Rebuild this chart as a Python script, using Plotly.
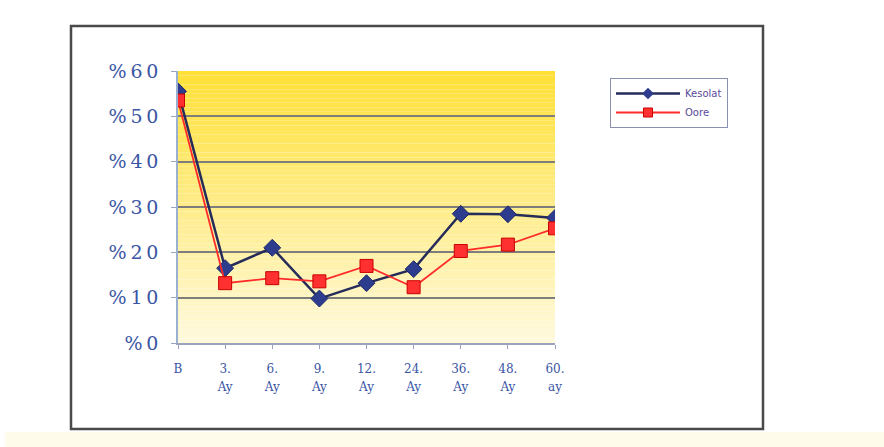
import plotly.graph_objects as go

# Follow-up periods (first line / second line of each tick label)
periods = ["B", "3.", "6.", "9.", "12.", "24.", "36.", "48.", "60."]
period_units = ["", "Ay", "Ay", "Ay", "Ay", "Ay", "Ay", "Ay", "ay"]

# Percentages for each series
kesolat = [55.5, 16.5, 21.0, 9.8, 13.2, 16.3, 28.5, 28.4, 27.6]
oore = [53.5, 13.2, 14.3, 13.6, 17.0, 12.3, 20.3, 21.7, 25.3]

y_ticks = [0, 10, 20, 30, 40, 50, 60]
# thin spaces widen the percent labels a little
y_ticktext = ["%\u2009" + "\u2009".join(str(v)) for v in y_ticks]

W, H = 884, 447
L, R, T, B = 178, 329, 71, 104
pw, ph = W - L - R, H - T - B

xs = list(range(len(periods)))
blue = "#3a55a4"

k_line = dict(color="#262c5a", width=2.5)
o_line = dict(color="#ff2a2a", width=1.8)

fig = go.Figure()
fig.add_trace(go.Scatter(
    x=xs, y=kesolat, name="Kesolat", mode="lines+markers",
    line=k_line, showlegend=False,
    marker=dict(symbol="diamond", size=13, color="#2d3c8c",
                line=dict(color="#1e2a6a", width=1)),
))
fig.add_trace(go.Scatter(
    x=xs, y=oore, name="Oore", mode="lines+markers",
    line=o_line, showlegend=False,
    marker=dict(symbol="square", size=13, color="#ff3030",
                line=dict(color="#c80000", width=1)),
))
# legend entries with smaller symbols
fig.add_trace(go.Scatter(
    x=[None], y=[None], name="Kesolat", mode="lines+markers", line=k_line,
    marker=dict(symbol="diamond", size=9, color="#2d3c8c"),
))
fig.add_trace(go.Scatter(
    x=[None], y=[None], name="Oore", mode="lines+markers", line=o_line,
    marker=dict(symbol="square", size=9, color="#ff3030",
                line=dict(color="#c80000", width=1)),
))
# carrier for the second row of x tick labels
fig.add_trace(go.Scatter(x=xs, y=[None] * len(xs), xaxis="x2",
                         showlegend=False, hoverinfo="skip"))


def px_x(p):
    return (p - L) / pw


def px_y(p):
    return (H - B - p) / ph


# vertical yellow gradient behind the plot area
shapes = []
n = 60
top_c = (255, 224, 56)
bot_c = (255, 249, 220)
for i in range(n):
    t = i / (n - 1)
    c = tuple(round(top_c[k] + (bot_c[k] - top_c[k]) * t) for k in range(3))
    shapes.append(dict(type="rect", xref="paper", yref="paper",
                       x0=0, x1=1, y0=1 - (i + 1) / n, y1=1 - i / n,
                       fillcolor="rgb(%d,%d,%d)" % c, line=dict(width=0),
                       layer="below"))

# faint strip along the bottom of the page
shapes.append(dict(type="rect", xref="paper", yref="paper",
                   x0=px_x(5), x1=px_x(884), y0=px_y(447), y1=px_y(432),
                   fillcolor="#fffbea", line=dict(width=0), layer="below"))

# outer chart frame
shapes.append(dict(type="rect", xref="paper", yref="paper",
                   x0=px_x(71), x1=px_x(763), y0=px_y(429), y1=px_y(26),
                   line=dict(color="#4a4a4a", width=2.5), layer="below"))

fig.update_layout(
    width=W, height=H,
    margin=dict(l=L, r=R, t=T, b=B),
    paper_bgcolor="white",
    plot_bgcolor="rgba(0,0,0,0)",
    shapes=shapes,
    showlegend=True,
    legend=dict(
        x=px_x(610), y=px_y(78), xanchor="left", yanchor="top",
        bgcolor="white", bordercolor="#8a90b0", borderwidth=1,
        font=dict(family="DejaVu Sans", size=10, color="#5a4a9a"),
        itemwidth=64, tracegroupgap=4,
    ),
    xaxis=dict(
        range=[0, 8], tickmode="array", tickvals=xs, ticktext=periods,
        showgrid=False, zeroline=False,
        showline=True, linecolor="#9aa4c0", linewidth=1.5,
        ticks="outside", ticklen=4, tickcolor="#9aa4c0",
        tickfont=dict(family="DejaVu Serif", size=12, color=blue),
        ticklabelstandoff=10,
    ),
    xaxis2=dict(
        range=[0, 8], overlaying="x", side="bottom", anchor="y",
        tickmode="array", tickvals=xs, ticktext=period_units,
        showgrid=False, zeroline=False, showline=False, ticks="",
        tickfont=dict(family="DejaVu Serif", size=12, color=blue),
        ticklabelstandoff=35,
    ),
    yaxis=dict(
        range=[0, 60], tickmode="array", tickvals=y_ticks, ticktext=y_ticktext,
        showgrid=True, gridcolor="#7d7d7d", gridwidth=1.5,
        zeroline=False, showline=True, linecolor="#9ab0d0", linewidth=1.5,
        ticks="outside", ticklen=5, tickcolor="#9aa4c0",
        tickfont=dict(family="DejaVu Serif", size=19, color=blue),
        ticklabelstandoff=9,
    ),
)

fig.write_html("out.html")
